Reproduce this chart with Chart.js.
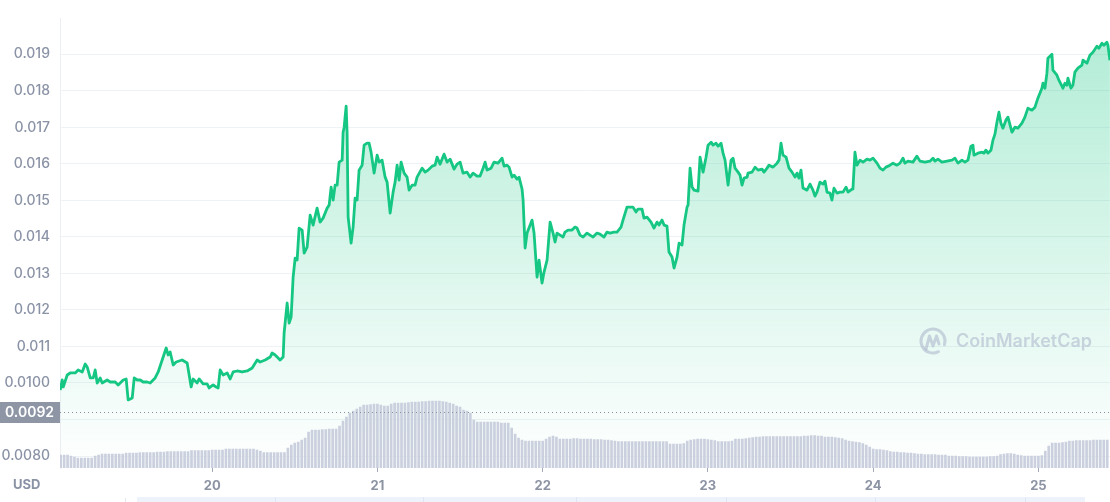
<!DOCTYPE html>
<html>
<head>
<meta charset="utf-8">
<script src="https://cdn.jsdelivr.net/npm/chart.js@4.4.1/dist/chart.umd.min.js"></script>
<style>
  html, body { margin: 0; padding: 0; background: #fff; }
  #wrap { width: 1110px; height: 502px; position: relative; }
</style>
</head>
<body>
<div id="wrap"><canvas id="chart" width="1110" height="502"></canvas></div>
<script>
// --- DATA (hours counted from the 19th, 00:00) ---
const priceHours = [
  1.93, 2.22, 2.37, 2.95, 3.38, 4.11, 4.54, 5.13, 5.56, 5.85,
  6.29, 6.72, 7.01, 7.30, 7.74, 8.03, 8.75, 9.19, 9.92, 10.35,
  11.08, 11.51, 11.80, 12.39, 12.68, 13.11, 13.55, 13.98, 14.56, 15.00,
  15.72, 16.16, 16.74, 17.32, 17.61, 17.90, 18.34, 18.77, 19.64, 20.37,
  20.95, 21.24, 21.82, 22.11, 22.69, 23.27, 23.56, 24.14, 24.58, 24.87,
  25.16, 25.60, 26.18, 26.61, 27.05, 27.63, 28.35, 29.08, 29.81, 30.53,
  30.97, 31.70, 32.42, 32.71, 33.15, 33.87, 34.31, 34.45, 34.89, 35.18,
  35.47, 35.76, 36.05, 36.34, 36.63, 37.07, 37.36, 37.79, 38.23, 38.66,
  39.24, 39.68, 40.11, 40.70, 40.99, 41.28, 41.57, 41.86, 42.15, 42.44,
  42.88, 43.02, 43.17, 43.46, 43.60, 43.75, 44.18, 44.47, 44.76, 45.05,
  45.34, 45.78, 46.07, 46.50, 46.79, 47.08, 47.52, 47.96, 48.25, 48.68,
  49.12, 49.41, 49.85, 50.28, 50.57, 50.86, 51.15, 51.44, 51.88, 52.31,
  52.60, 53.04, 53.47, 53.76, 54.49, 54.93, 55.36, 55.94, 56.38, 56.67,
  57.10, 57.68, 58.12, 58.56, 59.14, 59.57, 60.01, 60.44, 61.02, 61.46,
  61.89, 62.47, 62.91, 63.35, 63.64, 63.93, 64.51, 64.94, 65.52, 66.10,
  66.40, 66.83, 67.12, 67.56, 67.85, 68.28, 68.57, 69.01, 69.16, 69.45,
  69.74, 70.46, 70.75, 71.19, 71.48, 71.91, 72.20, 72.64, 73.08, 73.51,
  73.80, 74.09, 74.53, 74.96, 75.25, 75.69, 76.27, 76.70, 76.99, 77.43,
  77.87, 78.45, 78.88, 79.32, 79.90, 80.33, 80.91, 81.35, 81.78, 82.36,
  82.80, 83.38, 83.67, 84.25, 84.83, 85.12, 85.56, 85.85, 86.43, 86.72,
  87.16, 87.74, 88.17, 88.61, 88.90, 89.34, 89.63, 90.06, 90.35, 90.79,
  91.08, 91.52, 91.81, 92.24, 92.53, 92.97, 93.12, 93.41, 93.70, 93.99,
  94.57, 94.86, 95.30, 95.73, 96.02, 96.46, 96.75, 97.19, 97.48, 97.91,
  98.20, 98.49, 98.93, 99.36, 99.65, 99.94, 100.38, 100.67, 100.96, 101.25,
  101.69, 101.83, 102.41, 102.85, 103.28, 103.86, 104.15, 104.59, 104.88, 105.46,
  106.04, 106.33, 106.62, 106.91, 107.35, 107.78, 108.22, 108.65, 108.94, 109.23,
  109.52, 109.81, 110.39, 110.83, 111.26, 111.55, 111.84, 112.28, 112.72, 113.01,
  113.30, 113.73, 114.02, 114.31, 114.75, 115.19, 115.62, 116.06, 116.35, 116.93,
  117.07, 117.36, 117.65, 118.09, 118.53, 119.11, 119.54, 119.98, 120.56, 120.99,
  121.43, 121.86, 122.45, 122.88, 123.46, 123.90, 124.33, 124.62, 125.06, 125.78,
  126.36, 126.80, 127.52, 128.25, 128.69, 128.98, 129.41, 129.99, 130.72, 131.45,
  131.88, 132.32, 132.90, 133.33, 133.77, 134.21, 134.50, 134.64, 135.22, 135.80,
  136.09, 136.38, 136.67, 137.11, 137.40, 137.69, 137.98, 138.27, 138.56, 138.85,
  139.28, 139.58, 140.16, 140.59, 141.03, 141.61, 142.04, 142.48, 143.06, 143.50,
  143.93, 144.51, 144.66, 144.95, 145.24, 145.38, 145.97, 146.11, 146.69, 146.98,
  147.56, 147.85, 148.14, 148.29, 148.72, 149.01, 149.30, 149.74, 150.32, 150.47,
  151.05, 151.48, 151.92, 152.50, 152.79, 153.23, 153.52, 153.95, 154.10, 154.39
];

const prices = [
  0.009808, 0.010082, 0.009891, 0.010219, 0.010274, 0.010274, 0.010356, 0.010301, 0.010520, 0.010438,
  0.010137, 0.010137, 0.010356, 0.010000, 0.010137, 0.010000, 0.010082, 0.010027, 0.010027, 0.009945,
  0.010082, 0.010109, 0.009535, 0.009590, 0.010137, 0.010082, 0.010082, 0.010027, 0.010027, 0.010000,
  0.010137, 0.010301, 0.010629, 0.010958, 0.010766, 0.010848, 0.010492, 0.010575, 0.010629, 0.010547,
  0.009891, 0.010109, 0.010000, 0.010109, 0.009973, 0.009973, 0.009863, 0.009945, 0.009891, 0.009863,
  0.010356, 0.010219, 0.010274, 0.010109, 0.010301, 0.010328, 0.010301, 0.010328, 0.010410, 0.010629,
  0.010575, 0.010629, 0.010711, 0.010821, 0.010766, 0.010629, 0.010711, 0.011368, 0.012189, 0.011642,
  0.011806, 0.012900, 0.013420, 0.013365, 0.014241, 0.014186, 0.013557, 0.013721, 0.014596, 0.014323,
  0.014788, 0.014405, 0.014514, 0.014788, 0.014870, 0.015363, 0.015007, 0.015417, 0.015417, 0.016047,
  0.016101, 0.016867, 0.017004, 0.017579, 0.016840, 0.014542, 0.013830, 0.014268, 0.015062, 0.015007,
  0.015828, 0.015964, 0.016512, 0.016566, 0.016566, 0.016320, 0.015746, 0.016238, 0.016047, 0.016101,
  0.015636, 0.015499, 0.014651, 0.015226, 0.015499, 0.015964, 0.015554, 0.016047, 0.015746, 0.015636,
  0.015280, 0.015417, 0.015417, 0.015636, 0.015882, 0.015773, 0.015828, 0.015937, 0.015964, 0.016183,
  0.015992, 0.016265, 0.016047, 0.016129, 0.015855, 0.015992, 0.016047, 0.015746, 0.015773, 0.015636,
  0.015746, 0.015664, 0.015664, 0.015882, 0.016047, 0.015828, 0.015882, 0.016047, 0.016019, 0.016156,
  0.015937, 0.015964, 0.015910, 0.015636, 0.015691, 0.015581, 0.015636, 0.015308, 0.015007, 0.013694,
  0.014104, 0.014460, 0.014104, 0.012900, 0.013365, 0.012736, 0.013037, 0.013365, 0.014405, 0.014104,
  0.013858, 0.014104, 0.014049, 0.013995, 0.014131, 0.014186, 0.014186, 0.014268, 0.014241, 0.014049,
  0.013995, 0.014104, 0.014049, 0.013995, 0.014104, 0.014077, 0.013995, 0.014131, 0.014104, 0.014131,
  0.014131, 0.014268, 0.014460, 0.014815, 0.014815, 0.014815, 0.014679, 0.014761, 0.014761, 0.014514,
  0.014542, 0.014405, 0.014241, 0.014405, 0.014323, 0.014460, 0.014323, 0.014296, 0.013584, 0.013447,
  0.013146, 0.013447, 0.013830, 0.013776, 0.014323, 0.014815, 0.014870, 0.015882, 0.015363, 0.015280,
  0.015253, 0.016183, 0.015773, 0.016183, 0.016512, 0.016594, 0.016512, 0.016566, 0.016484, 0.016566,
  0.016293, 0.016101, 0.015417, 0.016101, 0.016156, 0.015882, 0.015773, 0.015691, 0.015417, 0.015609,
  0.015636, 0.015746, 0.015773, 0.015910, 0.015828, 0.015855, 0.015773, 0.015882, 0.015964, 0.015910,
  0.016019, 0.016101, 0.016566, 0.016238, 0.016183, 0.015882, 0.015773, 0.015636, 0.015746, 0.015609,
  0.015828, 0.015335, 0.015280, 0.015445, 0.015280, 0.015116, 0.015226, 0.015499, 0.015445, 0.015527,
  0.015226, 0.015198, 0.015007, 0.015335, 0.015198, 0.015226, 0.015226, 0.015363, 0.015226, 0.015308,
  0.015335, 0.016320, 0.015964, 0.016101, 0.016047, 0.016129, 0.016101, 0.016156, 0.016019, 0.015882,
  0.015828, 0.015910, 0.015964, 0.016019, 0.015964, 0.016019, 0.016156, 0.016019, 0.016074, 0.016047,
  0.016211, 0.016074, 0.016047, 0.016074, 0.016156, 0.016074, 0.016129, 0.016047, 0.016074, 0.016101,
  0.016156, 0.016019, 0.016101, 0.016047, 0.016101, 0.016484, 0.016512, 0.016238, 0.016293, 0.016320,
  0.016293, 0.016375, 0.016293, 0.016375, 0.016648, 0.016813, 0.017141, 0.017415, 0.017114, 0.016977,
  0.017196, 0.017278, 0.016867, 0.017004, 0.016977, 0.017114, 0.017278, 0.017524, 0.017469, 0.017551,
  0.017798, 0.018071, 0.018208, 0.018071, 0.018482, 0.018892, 0.019001, 0.018564, 0.018427, 0.018290,
  0.018071, 0.018208, 0.018153, 0.018345, 0.018071, 0.018153, 0.018509, 0.018618, 0.018700, 0.018837,
  0.018755, 0.018974, 0.019056, 0.019220, 0.019165, 0.019302, 0.019247, 0.019329, 0.019247, 0.018837
];

// volume bars: one every half hour, starting at hour 2
const volumeStartHour = 2;
const volumeStepHours = 0.5;
const volumes = [
  13, 13, 13, 12, 11,
  10, 10, 10, 10, 10, 12,
  13, 14, 14, 14, 14, 14, 14, 14,
  15, 15, 15, 15, 15.5, 15.5, 15.5, 15.5, 15.5, 16, 16, 16,
  16.5, 16.5, 16.5, 16.5, 16.5, 16.5, 16.5,
  17.5, 17.5, 17.5, 17.5, 17.5, 17.5,
  18, 18, 18, 18,
  19, 19, 19, 19, 19, 19, 19, 19, 19,
  18, 17,
  15.5, 15.5, 15.5, 15.5, 15.5, 15.5, 15.5,
  20, 23, 25, 26, 28, 30, 36,
  38, 38, 38, 38.5, 38.5, 39, 39, 39,
  42, 47, 51, 55, 57, 59, 61,
  63, 63, 63.5, 64, 64,
  63, 62, 62,
  64, 65, 65, 65, 65, 65.5,
  66, 66, 66, 66.5, 66.5, 67, 67, 67, 67, 66.5, 66,
  65, 64,
  62, 61,
  58, 57, 55,
  48, 46, 46, 46, 46, 46, 46, 46, 45, 45, 45,
  40, 34, 30,
  28, 27, 27, 27, 27, 27, 27,
  29, 31, 32, 31,
  29, 29, 29, 29, 29.5, 29.5, 29, 29, 29, 29, 28.5, 28.5, 28.5, 28, 28, 27.5, 27,
  26.5, 26.5, 26.5, 26.5, 26.5, 26.5, 26.5, 26.5, 26.5, 26.5, 26.5, 26.5, 26.5, 26.5, 26.5,
  24, 24, 24, 24, 24.5,
  27, 28, 28.5, 29, 29, 29, 28.5, 28, 27.5,
  26.5, 26.5, 26.5, 26.5, 27,
  29, 29, 29, 29.5, 30, 30.5,
  31, 31, 31.5, 31.5, 31.5, 31.5, 31.5, 31.5, 31.5, 31.5, 31.5, 31.5, 31.5, 31.5,
  32, 32, 32.5, 32.5, 32, 32,
  31, 31, 31, 30.5, 30, 29.5,
  28, 27, 26.5, 26, 25.5, 24.5, 23,
  21, 19, 18.5, 18.5, 18, 17.5,
  16.5, 16, 16, 15.5, 15.5, 15, 15,
  14.5, 14, 14, 13.5, 13.5, 13.5, 13.5, 13, 13, 13,
  12, 12, 12, 11.5, 11.5, 11.5, 11, 11, 11, 11, 11, 11, 11.5, 11.5, 12,
  13.5, 14, 14.5, 14.5, 14, 13,
  12.5, 12, 12, 12, 12, 12, 12.5,
  17, 22,
  25, 25, 25, 25.5, 26,
  27, 27, 27.5, 27.5, 27.5, 27.5, 27.5, 28, 28, 28, 28, 28
];

const priceTicks = [0.008, 0.009, 0.010, 0.011, 0.012, 0.013, 0.014, 0.015, 0.016, 0.017, 0.018, 0.019];
const priceTickLabels = ['0.0080', '', '0.0100', '0.011', '0.012', '0.013', '0.014', '0.015', '0.016', '0.017', '0.018', '0.019'];
const dayTicks = [24, 48, 72, 96, 120, 144];
const dayTickLabels = ['20', '21', '22', '23', '24', '25'];
const markerPrice = 0.0092;
const markerLabel = '0.0092';

const GREEN = '#16c784';
const LABEL = '#8a92a6';

// --- extra drawing: marker line, label box, watermark, currency ---
const decorPlugin = {
  id: 'decor',
  afterDatasetsDraw(chart) {
    const ctx = chart.ctx;
    const area = chart.chartArea;
    const y = chart.scales.y.getPixelForValue(markerPrice);

    // watermark
    ctx.save();
    ctx.strokeStyle = 'rgba(170,178,202,0.55)';
    ctx.fillStyle = 'rgba(170,178,202,0.55)';
    ctx.lineWidth = 3;
    ctx.lineCap = 'round';
    ctx.lineJoin = 'round';
    ctx.beginPath();
    ctx.arc(933, 341, 12, 0.35 * Math.PI, 2.1 * Math.PI, false);
    ctx.stroke();
    ctx.beginPath();
    ctx.moveTo(926, 349);
    ctx.lineTo(929.5, 336);
    ctx.lineTo(933, 346);
    ctx.lineTo(936.5, 336);
    ctx.lineTo(939, 344);
    ctx.stroke();
    ctx.font = '600 18px Inter, "Open Sans", sans-serif';
    ctx.textBaseline = 'middle';
    ctx.fillText('CoinMarketCap', 956, 342);
    ctx.restore();

    // dotted marker line
    ctx.save();
    ctx.strokeStyle = '#8c919c';
    ctx.lineWidth = 1;
    ctx.setLineDash([1, 3]);
    ctx.beginPath();
    ctx.moveTo(area.left, Math.round(y) + 0.5);
    ctx.lineTo(area.right, Math.round(y) + 0.5);
    ctx.stroke();
    ctx.restore();
  },
  afterDraw(chart) {
    const ctx = chart.ctx;
    const area = chart.chartArea;
    const y = chart.scales.y.getPixelForValue(markerPrice);
    ctx.save();
    ctx.fillStyle = '#8e96a6';
    ctx.fillRect(0, Math.round(y) - 10, area.left, 21);
    ctx.fillStyle = '#ffffff';
    ctx.font = '600 14px Inter, "Open Sans", sans-serif';
    ctx.textBaseline = 'middle';
    ctx.fillText(markerLabel, 5, Math.round(y) + 0.5);

    ctx.fillStyle = LABEL;
    ctx.font = '700 13px Inter, "Open Sans", sans-serif';
    ctx.fillText('USD', 13, 485);

    // range navigator strip at the very bottom
    ctx.fillStyle = '#eef2fb';
    ctx.fillRect(137, 497, 948, 5);
    ctx.fillStyle = '#dfe5f3';
    [275, 423, 576, 726, 875, 1025].forEach(x => ctx.fillRect(x, 497, 1, 5));
    ctx.fillStyle = '#e3e6ec';
    ctx.fillRect(125, 498, 1, 4);
    ctx.restore();
  }
};

const ctx = document.getElementById('chart').getContext('2d');
new Chart(ctx, {
  type: 'bar',
  data: {
    datasets: [
      {
        type: 'line',
        label: 'Price',
        data: priceHours.map((h, i) => ({ x: h, y: prices[i] })),
        yAxisID: 'y',
        borderColor: GREEN,
        borderWidth: 2.8,
        borderJoinStyle: 'round',
        pointRadius: 0,
        tension: 0,
        fill: 'start',
        backgroundColor: (c) => {
          const a = c.chart.chartArea;
          if (!a) return 'rgba(22,199,132,0.2)';
          const g = c.chart.ctx.createLinearGradient(0, a.top, 0, a.bottom);
          g.addColorStop(0, 'rgba(22,199,132,0.34)');
          g.addColorStop(1, 'rgba(22,199,132,0)');
          return g;
        },
        order: 1
      },
      {
        type: 'bar',
        label: 'Volume',
        data: volumes.map((v, i) => ({ x: volumeStartHour + i * volumeStepHours, y: v })),
        yAxisID: 'yv',
        backgroundColor: '#cad0de',
        barThickness: 2,
        order: 0
      }
    ]
  },
  options: {
    responsive: false,
    animation: false,
    devicePixelRatio: 1,
    layout: { padding: { top: 18, left: 0, right: 0, bottom: 0 } },
    plugins: { legend: { display: false }, tooltip: { enabled: false } },
    scales: {
      x: {
        type: 'linear',
        offset: false,
        min: 1.9,
        max: 154.4,
        afterBuildTicks: (axis) => { axis.ticks = dayTicks.map(v => ({ value: v })); },
        afterFit: (axis) => { axis.height = 34; },
        ticks: {
          callback: (v) => dayTickLabels[dayTicks.indexOf(v)],
          color: '#8c93a3',
          font: { family: 'Inter, "Open Sans", sans-serif', size: 13, weight: '700' },
          padding: 6,
          maxRotation: 0,
          autoSkip: false
        },
        grid: { display: true, offset: false, drawOnChartArea: false, drawTicks: true, tickLength: 4, color: '#a3a9b6' },
        border: { display: false }
      },
      y: {
        position: 'left',
        min: 0.007672,
        max: 0.019982,
        afterBuildTicks: (axis) => { axis.ticks = priceTicks.map(v => ({ value: v })); },
        afterFit: (axis) => { axis.width = 60; },
        ticks: {
          callback: (v) => priceTickLabels[priceTicks.findIndex(t => Math.abs(t - v) < 1e-9)],
          color: LABEL,
          font: { family: 'Inter, "Open Sans", sans-serif', size: 14, weight: '500' },
          padding: 10
        },
        grid: { color: '#eff2f5', drawTicks: false },
        border: { display: true, color: '#eceff3' }
      },
      yv: {
        display: false,
        min: 0,
        max: 450
      }
    }
  },
  plugins: [decorPlugin]
});
</script>
</body>
</html>
